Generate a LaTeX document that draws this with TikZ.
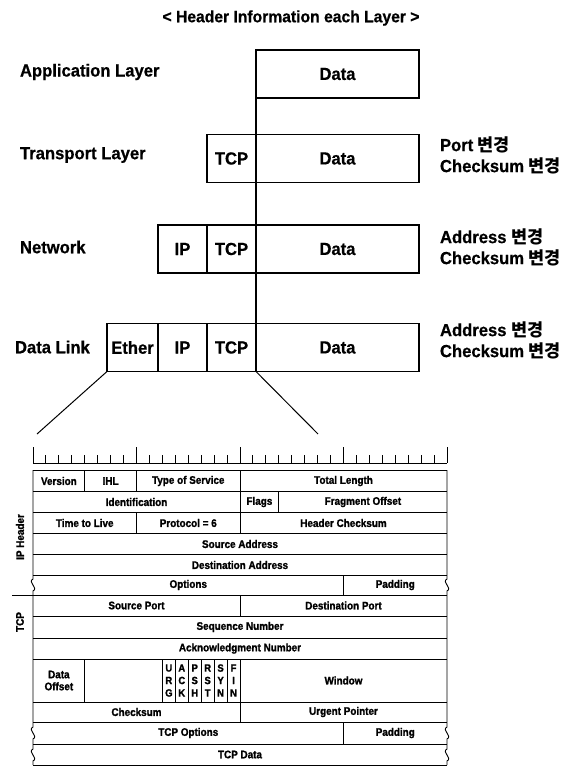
\documentclass[tikz,border=0pt]{standalone}
\usepackage{fontspec}
\setmainfont{Liberation Sans}[FakeStretch=0.95, BoldFeatures={FakeBold=0.6}]
\newfontfamily\tbl{Liberation Sans}[FakeStretch=0.9, BoldFeatures={FakeBold=1.4}]
\newfontfamily\kr{Noto Sans CJK KR}
\newcommand\bk{{\kr 변경}}
\tikzset{
  every node/.style={inner sep=0pt, outer sep=0pt},
  big/.style={font=\bfseries\fontsize{17.5}{21}\selectfont},
  lcell/.style={draw, line width=1.3pt, big, minimum height=48pt},
  lab/.style={big, anchor=west},
  rlab/.style={big, anchor=west, align=left},
  tline/.style={line width=0.9pt},
  ttext/.style={font=\tbl\bfseries\fontsize{11}{12}\selectfont},
  flg/.style={font=\tbl\bfseries\fontsize{10.5}{12.5}\selectfont, align=center},
}
\def\w{12.9375}
\begin{document}
\begin{tikzpicture}[x=1pt,y=-1pt]
\useasboundingbox (0,0) rectangle (582,767);
% title
\node[font=\bfseries\fontsize{16.5}{20}\selectfont] (title) at (291,18) {< Header Information each Layer >};
% left labels
\node[lab] (lapp) at (20,72) {Application Layer};
\node[lab] (ltr) at (20,155) {Transport Layer};
\node[lab] (lnw) at (20,247) {Network};
\node[lab] (ldl) at (15,347) {Data Link};
% application
\node[lcell, minimum width=163pt] (appD) at (337.5,74) {Data};
% transport
\node[lcell, minimum width=49pt] (trT) at (231.5,158.5) {TCP};
\node[lcell, minimum width=163pt] (trD) at (337.5,158.5) {Data};
% network
\node[lcell, minimum width=49pt] (nwI) at (182.5,249) {IP};
\node[lcell, minimum width=49pt] (nwT) at (231.5,249) {TCP};
\node[lcell, minimum width=163pt] (nwD) at (337.5,249) {Data};
% data link
\node[lcell, minimum width=51pt] (dlE) at (132.5,347.5) {Ether};
\node[lcell, minimum width=49pt] (dlI) at (182.5,347.5) {IP};
\node[lcell, minimum width=49pt] (dlT) at (231.5,347.5) {TCP};
\node[lcell, minimum width=163pt] (dlD) at (337.5,347.5) {Data};
% vertical line
\draw[line width=1.3pt] (appD.south west) -- (dlD.south west);
% right labels
\node[rlab] (rtr) at (440,155) {Port \bk\\Checksum \bk};
\node[rlab] (rnw) at (440,247) {Address \bk\\Checksum \bk};
\node[rlab] (rdl) at (440,340) {Address \bk\\Checksum \bk};
% zoom lines
\coordinate (z1) at (37,434);
\coordinate (z2) at (318,434);
\draw[line width=1pt] (dlE.south west) -- (z1);
\draw[line width=1pt] (dlD.south west) -- (z2);
% ruler
\draw[tline] (33,463) -- (447,463);
\foreach \i in {0,...,32}{
  \pgfmathtruncatemacro\m{mod(\i,8)}
  \ifnum\m=0
    \draw[tline] ({33+\i*\w},447) -- ({33+\i*\w},463);
  \else
    \draw[tline] ({33+\i*\w},455) -- ({33+\i*\w},463);
  \fi
}
% table rows
\foreach \y in {470,491,512,533,554,575,595,616,638,659,702,722,744,765}
  \draw[tline] (33,\y) -- (447,\y);
% internal verticals
\foreach \b/\a/\c in {4/470/491,8/470/491,16/470/491,16/491/512,19/491/512,
  8/512/533,16/512/533,24/575/595,16/595/616,4/659/702,10/659/702,11/659/702,
  12/659/702,13/659/702,14/659/702,15/659/702,16/659/702,16/702/722,24/722/744}
  \draw[tline] ({33+\b*\w},\a) -- ({33+\b*\w},\c);
% outer edges with breaks
\draw[tline] (33,470) -- (33,579) .. controls (27,582) and (39,588) .. (33,591)
  -- (33,727) .. controls (27,730) and (39,736) .. (33,739)
  -- (33,749) .. controls (27,752) and (39,758) .. (33,761) -- (33,765);
\draw[tline] (447,470) -- (447,579) .. controls (441,582) and (453,588) .. (447,591)
  -- (447,727) .. controls (441,730) and (453,736) .. (447,739)
  -- (447,749) .. controls (441,752) and (453,758) .. (447,761) -- (447,765);
% side labels
\draw[tline] (12,595) -- (33,595);
\node[ttext, rotate=90] (iph) at (20,537) {IP Header};
\node[ttext, rotate=90] (tcph) at (20,622) {TCP};
% cell texts
\node[ttext] (ver) at ({33+2*\w},481) {Version};
\node[ttext] (ihl) at ({33+6*\w},481) {IHL};
\node[ttext] (tos) at ({33+12*\w},481) {Type of Service};
\node[ttext] (tlen) at ({33+24*\w},481) {Total Length};
\node[ttext] (ident) at ({33+8*\w},502) {Identification};
\node[ttext] (flags) at ({33+17.5*\w},502) {Flags};
\node[ttext] (frag) at ({33+25.5*\w},502) {Fragment Offset};
\node[ttext] (ttl) at ({33+4*\w},523) {Time to Live};
\node[ttext] (proto) at ({33+12*\w},523) {Protocol = 6};
\node[ttext] (hcs) at ({33+24*\w},523) {Header Checksum};
\node[ttext] (srca) at ({33+16*\w},544) {Source Address};
\node[ttext] (dsta) at ({33+16*\w},565) {Destination Address};
\node[ttext] (opts) at ({33+12*\w},585) {Options};
\node[ttext] (pad1) at ({33+28*\w},585) {Padding};
\node[ttext] (sport) at ({33+8*\w},605.5) {Source Port};
\node[ttext] (dport) at ({33+24*\w},605.5) {Destination Port};
\node[ttext] (seq) at ({33+16*\w},627) {Sequence Number};
\node[ttext] (ack) at ({33+16*\w},648.5) {Acknowledgment Number};
\node[ttext, align=center] (doff) at ({33+2*\w},680.5) {Data\\Offset};
\node[flg] (furg) at ({33+10.5*\w},680.5) {U\\R\\G};
\node[flg] (fack) at ({33+11.5*\w},680.5) {A\\C\\K};
\node[flg] (fpsh) at ({33+12.5*\w},680.5) {P\\S\\H};
\node[flg] (frst) at ({33+13.5*\w},680.5) {R\\S\\T};
\node[flg] (fsyn) at ({33+14.5*\w},680.5) {S\\Y\\N};
\node[flg] (ffin) at ({33+15.5*\w},680.5) {F\\I\\N};
\node[ttext] (win) at ({33+24*\w},680.5) {Window};
\node[ttext] (csum) at ({33+8*\w},712) {Checksum};
\node[ttext] (urgp) at ({33+24*\w},712) {Urgent Pointer};
\node[ttext] (topt) at ({33+12*\w},733) {TCP Options};
\node[ttext] (pad2) at ({33+28*\w},733) {Padding};
\node[ttext] (tdata) at ({33+16*\w},754.5) {TCP Data};
\end{tikzpicture}
\end{document}
